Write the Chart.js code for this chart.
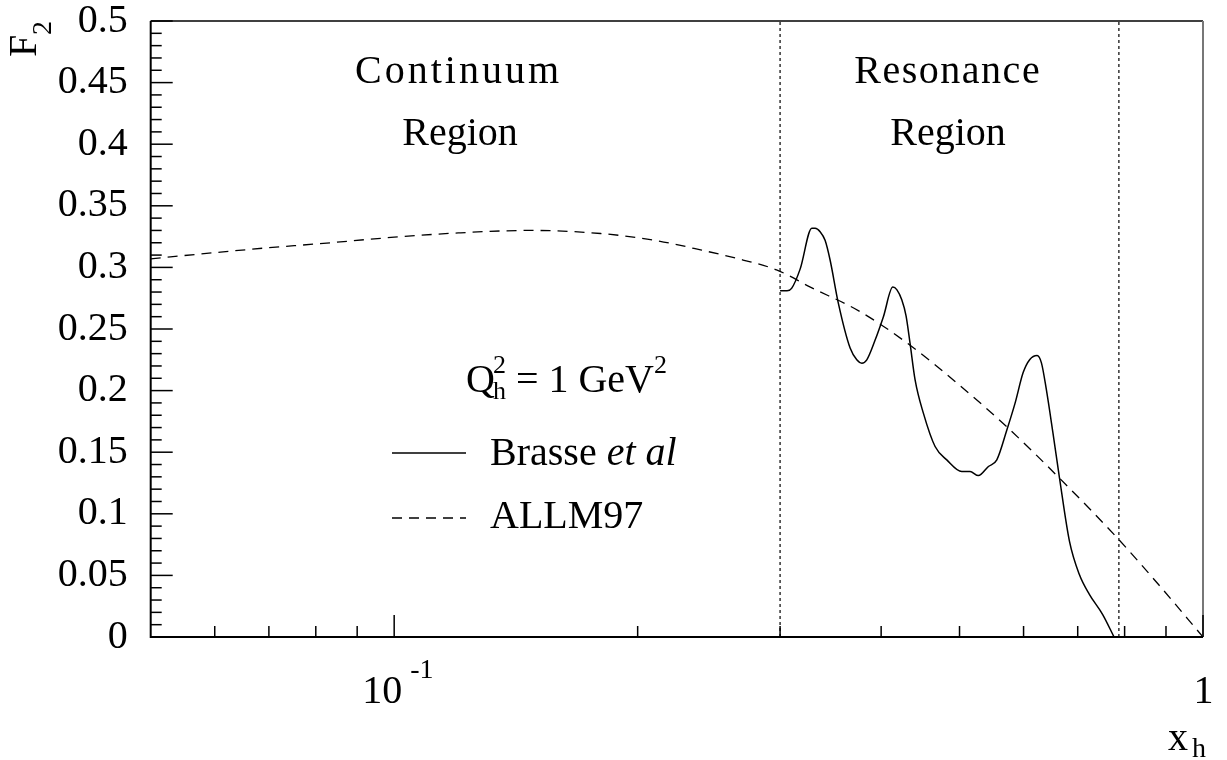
<!DOCTYPE html>
<html lang="en">
    <head>
        <meta charset="UTF-8">
        <title>F2 Brasse vs ALLM97</title>
        <script src="https://cdn.jsdelivr.net/npm/chart.js@4.4.1/dist/chart.umd.min.js"></script>
        <style>
            body { margin: 0; background: #fff; }
            #grafico { display: block; }
        </style>
    </head>
    <body>
        <canvas id="grafico" width="1227" height="760"></canvas>
    </body>
    <script>
        // ALLM97 (tratteggiata)
        const xAllm = [0.05, 0.06, 0.07, 0.08, 0.1, 0.12, 0.147, 0.18, 0.21, 0.24, 0.27, 0.297, 0.327, 0.377, 0.434, 0.50, 0.5725, 0.6658, 0.787, 0.88, 1.0];
        const f2Allm = [0.307, 0.312, 0.316, 0.319, 0.3245, 0.328, 0.330, 0.3275, 0.322, 0.314, 0.306, 0.298, 0.284, 0.264, 0.237, 0.2044, 0.1704, 0.1284, 0.079, 0.043, 0.0];

        // Brasse et al (continua), solo regione delle risonanze
        const xBrasse = [0.3, 0.306, 0.310, 0.3176, 0.3284, 0.3315, 0.3362, 0.341, 0.3459, 0.3541, 0.3662, 0.3732, 0.3786, 0.384, 0.3932, 0.4026, 0.4135, 0.4182, 0.4242, 0.4294, 0.4343, 0.4406, 0.4511, 0.4664, 0.4822, 0.5032, 0.5152, 0.5275, 0.5429, 0.556, 0.5721, 0.5858, 0.5993, 0.6108, 0.6236, 0.6313, 0.6401, 0.6522, 0.6648, 0.6838, 0.7033, 0.7236, 0.7513, 0.7763];
        const f2Brasse = [0.281, 0.281, 0.283, 0.2986, 0.3318, 0.3318, 0.329, 0.322, 0.306, 0.271, 0.2345, 0.225, 0.2223, 0.225, 0.241, 0.260, 0.284, 0.282, 0.2737, 0.2607, 0.2385, 0.2087, 0.1817, 0.1546, 0.1438, 0.1343, 0.1343, 0.131, 0.1384, 0.1438, 0.168, 0.190, 0.2146, 0.2253, 0.2285, 0.2225, 0.2011, 0.1661, 0.1286, 0.0776, 0.0507, 0.0346, 0.0184, 0.0];

        // confini delle regioni (linee punteggiate)
        const regionEdges = [0.3, 0.787];

        // tacche
        const yMinorStep = 0.01;
        const yMajorStep = 0.05;
        const xMinorTicks = [0.06, 0.07, 0.08, 0.09, 0.2, 0.3, 0.4, 0.5, 0.6, 0.7, 0.8, 0.9];
        const xMajorTicks = [0.1, 1];

        const FONT = "'Liberation Serif', 'DejaVu Serif', serif";

        function punti(xs, ys) {
            return xs.map((x, i) => ({x: x, y: ys[i]}));
        }

        const datasets = [
            {
                label: "Brasse et al",
                data: punti(xBrasse, f2Brasse),
                borderColor: "#000",
                borderWidth: 1.5,
                pointRadius: 0,
                cubicInterpolationMode: "monotone"
            },
            {
                label: "ALLM97",
                data: punti(xAllm, f2Allm),
                borderColor: "#000",
                borderWidth: 1.3,
                borderDash: [10, 7],
                pointRadius: 0,
                cubicInterpolationMode: "monotone"
            }
        ];
        regionEdges.forEach(function(e) {
            datasets.push({
                label: "edge",
                data: punti([e, e], [0, 0.5]),
                borderColor: "#333",
                borderWidth: 1.5,
                borderDash: [3, 3],
                pointRadius: 0
            });
        });

        const disegnaExtra = {
            id: "disegnaExtra",
            afterDraw(chart) {
                const ctx = chart.ctx;
                const a = chart.chartArea;
                const xs = chart.scales.x;
                const ys = chart.scales.y;
                ctx.save();
                ctx.strokeStyle = "#000";
                ctx.fillStyle = "#000";

                // cornice
                ctx.lineWidth = 1.5;
                ctx.beginPath();
                ctx.moveTo(a.left, a.top); ctx.lineTo(a.right, a.top);
                ctx.stroke();
                ctx.strokeStyle = "#777";
                ctx.lineWidth = 2;
                ctx.beginPath();
                ctx.moveTo(a.right, a.top); ctx.lineTo(a.right, a.bottom);
                ctx.stroke();
                ctx.strokeStyle = "#000";
                ctx.lineWidth = 2;
                ctx.beginPath();
                ctx.moveTo(a.left, a.top); ctx.lineTo(a.left, a.bottom);
                ctx.lineTo(a.right, a.bottom);
                ctx.stroke();

                // tacche asse y (verso l'interno)
                ctx.lineWidth = 1.5;
                for (let k = 0; k <= 50; k++) {
                    const v = k * yMinorStep;
                    const py = ys.getPixelForValue(v);
                    const len = (k % Math.round(yMajorStep / yMinorStep) === 0) ? 22 : 11;
                    ctx.beginPath();
                    ctx.moveTo(a.left, py); ctx.lineTo(a.left + len, py);
                    ctx.stroke();
                }
                // tacche asse x
                xMinorTicks.forEach(function(v) {
                    const px = xs.getPixelForValue(v);
                    ctx.beginPath();
                    ctx.moveTo(px, a.bottom); ctx.lineTo(px, a.bottom - 11);
                    ctx.stroke();
                });
                xMajorTicks.forEach(function(v) {
                    const px = xs.getPixelForValue(v);
                    ctx.beginPath();
                    ctx.moveTo(px, a.bottom); ctx.lineTo(px, a.bottom - 22);
                    ctx.stroke();
                });

                // etichette asse x
                const p1 = xs.getPixelForValue(0.1);
                const p2 = xs.getPixelForValue(1);
                ctx.textBaseline = "alphabetic";
                ctx.font = "40px " + FONT;
                ctx.textAlign = "right";
                ctx.fillText("10", p1 + 8, 703);
                ctx.textAlign = "center";
                ctx.fillText("1", p2 + 0.5, 703);
                ctx.font = "28px " + FONT;
                ctx.textAlign = "left";
                ctx.fillText("-1", p1 + 16, 678);

                // titolo asse x
                ctx.font = "40px " + FONT;
                ctx.fillText("x", 1168, 750);
                ctx.font = "28px " + FONT;
                ctx.fillText("h", 1192, 757);

                // titolo asse y (ruotato)
                ctx.save();
                ctx.translate(36, 57);
                ctx.rotate(-Math.PI / 2);
                ctx.font = "40px " + FONT;
                ctx.fillText("F", 0, 0);
                ctx.font = "28px " + FONT;
                ctx.fillText("2", 22, 15);
                ctx.restore();

                // regioni
                ctx.font = "40px " + FONT;
                ctx.textAlign = "center";
                ctx.letterSpacing = "3px";
                ctx.fillText("Continuum", 457 + 1.5, 83);
                ctx.letterSpacing = "1.5px";
                ctx.fillText("Resonance", 947 + 0.75, 83);
                ctx.letterSpacing = "0px";
                ctx.fillText("Region", 460, 145);
                ctx.fillText("Region", 948, 145);

                // Q^2_h = 1 GeV^2
                ctx.textAlign = "left";
                let x = 466;
                ctx.font = "40px " + FONT;
                ctx.fillText("Q", x, 392);
                x += ctx.measureText("Q").width - 2;
                ctx.font = "26px " + FONT;
                ctx.fillText("2", x, 373);
                ctx.fillText("h", x, 399);
                x += ctx.measureText("h").width;
                ctx.font = "40px " + FONT;
                const resto = " = 1 GeV";
                ctx.fillText(resto, x, 392);
                x += ctx.measureText(resto).width;
                ctx.font = "26px " + FONT;
                ctx.fillText("2", x, 373);

                // legenda
                ctx.lineWidth = 1.5;
                ctx.beginPath();
                ctx.moveTo(392, 453); ctx.lineTo(466, 453);
                ctx.stroke();
                ctx.lineWidth = 1.3;
                ctx.setLineDash([10, 7]);
                ctx.beginPath();
                ctx.moveTo(392, 518); ctx.lineTo(466, 518);
                ctx.stroke();
                ctx.setLineDash([]);
                ctx.font = "40px " + FONT;
                ctx.fillText("Brasse ", 490, 465);
                const wB = ctx.measureText("Brasse ").width;
                ctx.font = "italic 40px " + FONT;
                ctx.fillText("et al", 490 + wB, 465);
                ctx.font = "40px " + FONT;
                ctx.fillText("ALLM97", 490, 528);

                ctx.restore();
            }
        };

        new Chart("grafico", {
            type: "line",
            data: {datasets: datasets},
            options: {
                responsive: false,
                animation: false,
                layout: {padding: {top: 21, right: 24, left: 0, bottom: 0}},
                plugins: {legend: {display: false}, tooltip: {enabled: false}},
                scales: {
                    x: {
                        type: "logarithmic",
                        min: 0.05,
                        max: 1,
                        grid: {display: false, drawTicks: false},
                        border: {display: false},
                        ticks: {display: false},
                        afterFit: function(s) {
                            s.height = 123;
                            s.paddingLeft = 0; s.paddingRight = 0;
                            s.paddingTop = 0; s.paddingBottom = 0;
                        }
                    },
                    y: {
                        min: 0,
                        max: 0.5,
                        grid: {display: false, drawTicks: false},
                        border: {display: false},
                        ticks: {
                            stepSize: yMajorStep,
                            padding: 23,
                            color: "#000",
                            font: {family: FONT, size: 40, lineHeight: 1},
                            callback: (v) => String(Math.round(v * 100) / 100)
                        },
                        afterFit: function(s) {
                            s.width = 150.7;
                            s.paddingTop = 0; s.paddingBottom = 0;
                            s.paddingLeft = 0; s.paddingRight = 0;
                        }
                    }
                }
            },
            plugins: [disegnaExtra]
        });
    </script>
</html>
